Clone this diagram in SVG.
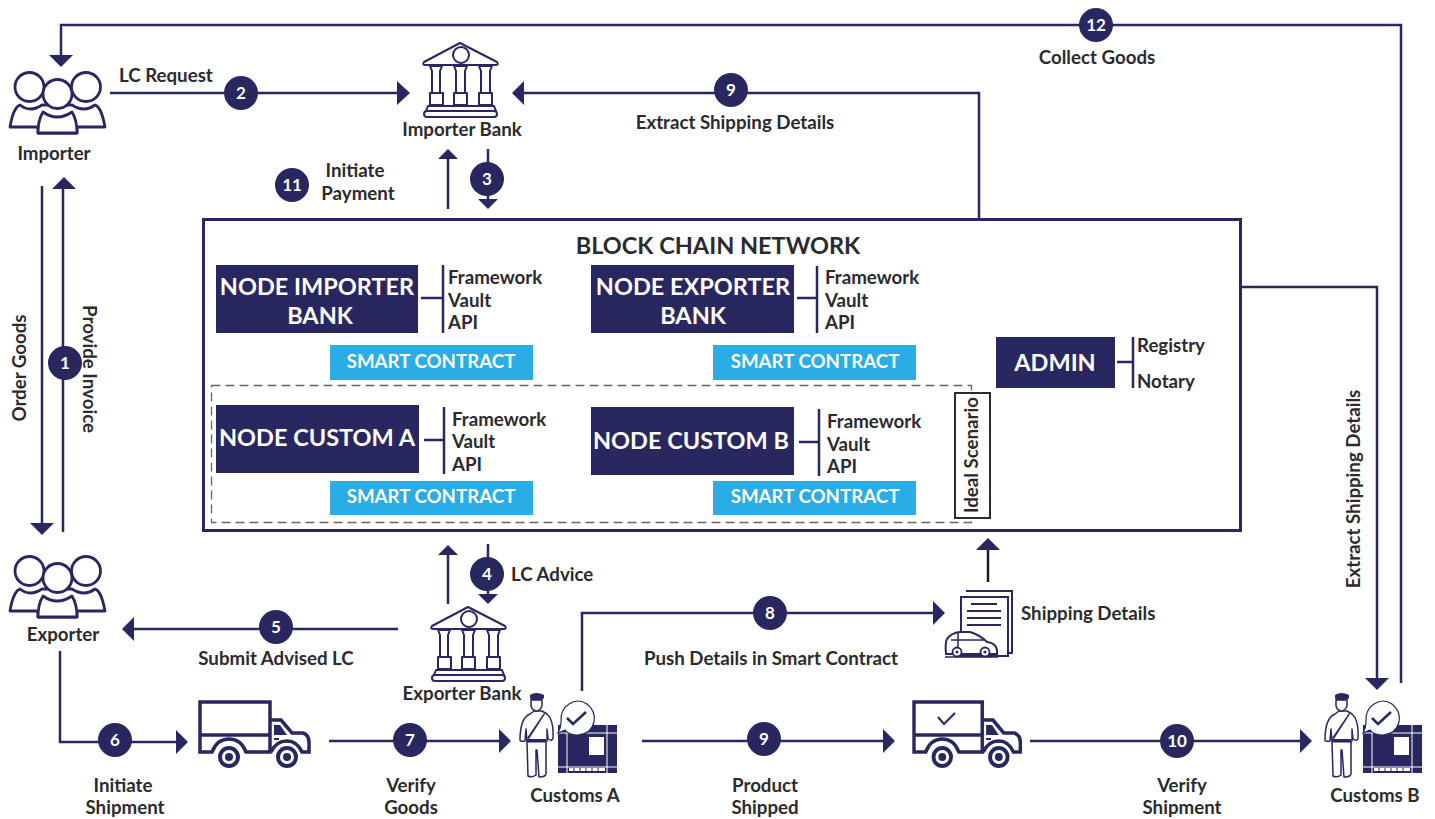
<svg xmlns="http://www.w3.org/2000/svg" width="1435" height="819" viewBox="0 0 1435 819">
<style>
text{font-family:Lato,"Liberation Sans",sans-serif;font-weight:700;fill:#2b2a2e;font-size:18.700px}
.m{text-anchor:middle}
.c{fill:none;stroke:#29275f;stroke-width:2.5}
.i{fill:#fff;stroke:#29275f;stroke-width:2.800;stroke-linejoin:round}
.bk{fill:#fff;stroke:#29275f;stroke-width:2;stroke-linejoin:round}
.t{fill:none;stroke:#29275f;stroke-width:3.500;stroke-linejoin:miter}
.d{fill:#29275f}
.n{fill:#fff;font-size:17px;text-anchor:middle}
.nb{fill:#fff;font-size:23.500px;font-weight:700;text-anchor:middle}
.sc{fill:#fff;font-size:18.700px;text-anchor:middle}
.b{fill:#2aace4}
</style>
<defs>
<g id="people">
<path class="i" d="M10 127Q12 115 15 110Q17 106 20 105Q30 113 42 105L72 105Q84 113 95 105Q98 106 100 110Q103 116 105 127H77V133H38V127Z"/>
<path class="i" d="M38 133Q38 120 43 112Q57 122 72 112Q77 120 77 133Z"/>
<circle class="i" cx="29.500" cy="87" r="14.500"/><circle class="i" cx="86" cy="87" r="14.500"/><circle class="i" cx="57.500" cy="94" r="14.500"/>
</g>
<g id="bank">
<path class="bk" d="M460 43L497 62Q499 65 496 65H425Q422 65 424 62Z"/>
<circle class="bk" cx="461" cy="55" r="8"/>
<path class="bk" d="M430 66H442L440 71V93H432V71Z M454 66H467L465 71V93H456V71Z M479 66H492L490 71V93H481V71Z"/>
<path class="bk" d="M430 93H443V105H430Z M454 93H467V105H454Z M479 93H492V105H479Z"/>
<path class="bk" d="M428 106H494L496 111H426Z"/>
<rect class="bk" x="424" y="111" width="73" height="6" rx="3"/>
</g>
<g id="truck">
<path class="t" d="M200 702H270V752H246Q241 739 229 739Q217 739 212 752H200Z"/>
<path class="t" d="M200 735H270"/>
<path class="t" d="M270 720H281L292 733H303Q309 735 309 742V752H302Q297 741 287 741Q276 741 271 752"/>
<path class="d" d="M274 725H280L287 735H274Z"/><path class="d" d="M274 738H279V740H274Z"/>
<circle cx="229" cy="757" r="9" fill="#fff" stroke="#29275f" stroke-width="4"/><circle class="d" cx="229" cy="757" r="4"/>
<circle cx="287" cy="757" r="9" fill="#fff" stroke="#29275f" stroke-width="4"/><circle class="d" cx="287" cy="757" r="4"/>
</g>
<g id="customs">
<path class="i" style="stroke-width:1.500" d="M520 740Q520 718 530 714L534 711H542L547 714Q554 720 553 738Q552 742 548 739L547 729V741L546 742V774Q545 777 540 777H539L537 750H536V775Q532 778 528 776L527 742L526 729L525 741Q520 742 520 740Z"/>
<path class="i" style="stroke-width:1.500" d="M531 700H542V706Q540 711 536 711Q532 710 531 706Z"/>
<path class="d" d="M530 695Q536 691 544 695V698L542 700H531L530 698Z"/>
<path class="d" d="M527 738L544 713L545 714L529 739Z"/><rect class="d" x="527" y="739" width="19" height="3.500"/>
<path class="d" d="M558 725H617V773H558Z"/>
<path d="M558 733H617M567 725V773M607 725V773M558 767H617" stroke="#fff" stroke-width="1" fill="none"/>
<rect x="589" y="737" width="15" height="18" fill="#fff"/>
<path d="M569 768H605V771H569Z" fill="#fff"/><path d="M574 768V771M580 768V771M586 768V771M592 768V771M598 768V771" stroke="#29275f"/>
<path fill="#fbfcfe" stroke="#29275f" stroke-width="1.200" d="M561 722Q560 710 569 704Q578 698 587 704Q596 711 594 722Q591 734 578 735Q569 735 565 730L558 733Q561 728 561 722Z"/>
<path d="M567 718L573 724L586 712" fill="none" stroke="#29275f" stroke-width="2.500"/>
</g>
</defs>

<g id="connectors">
<path class="c" d="M61 56V25H1401V683"/><path class="d" d="M49 55H73L61 67Z"/>
<path class="c" d="M110 93H399"/><path class="d" d="M397 81L410 93L397 105Z"/>
<path class="c" d="M979 218V93H523"/><path class="d" d="M524 81L512 93L524 105Z"/>
<path class="c" d="M448 209V157"/><path class="d" d="M438 159H458L448 149Z"/>
<path class="c" d="M488 149V200"/><path class="d" d="M478 199H498L488 209Z"/>
<path class="c" d="M42 186V524"/><path class="d" d="M30 523H54L42 535Z"/>
<path class="c" d="M63 532V188"/><path class="d" d="M52 189H76L64 177Z"/>
<path class="c" d="M1241 287H1377V679"/><path class="d" d="M1365 678H1389L1377 690Z"/>
<path class="c" d="M448 604V553"/><path class="d" d="M438 555H458L448 545Z"/>
<path class="c" d="M488 544V595"/><path class="d" d="M478 594H498L488 604Z"/>
<path class="c" d="M398 629H133"/><path class="d" d="M134 617L122 629L134 641Z"/>
<path class="c" d="M60 651V742H177"/><path class="d" d="M176 730L188 742L176 754Z"/>
<path class="c" d="M329 741H500"/><path class="d" d="M499 729L511 741L499 753Z"/>
<path class="c" d="M582 691V613H934"/><path class="d" d="M933 601L945 613L933 625Z"/>
<path fill="none" stroke="#1d1c2b" stroke-width="2.500" d="M988 582V549"/><path class="d" d="M976 550H1000L988 538Z"/>
<path class="c" d="M642 741H884"/><path class="d" d="M883 729L895 741L883 753Z"/>
<path class="c" d="M1030 741H1301"/><path class="d" d="M1300 729L1312 741L1300 753Z"/>
</g>

<g id="importer"><use href="#people"/><text class="m" x="54" y="160">Importer</text></g>
<g id="exporter"><use href="#people" y="484"/><text class="m" x="63" y="641">Exporter</text></g>
<g id="importer-bank"><use href="#bank"/><text class="m" x="462" y="136">Importer Bank</text></g>
<g id="exporter-bank"><use href="#bank" x="8" y="564"/><text class="m" x="462" y="700">Exporter Bank</text></g>
<g id="truck-1"><use href="#truck"/></g>
<g id="truck-2"><use href="#truck" transform="translate(719 0) scale(.975 1)"/><path d="M938 717L944 724L955 713" fill="none" stroke="#29275f" stroke-width="2"/></g>
<g id="customs-a"><use href="#customs"/><text class="m" x="575" y="802">Customs A</text></g>
<g id="customs-b"><use href="#customs" x="805"/><text class="m" x="1375" y="802">Customs B</text></g>
<g id="shipping-details">
<path class="c" style="stroke-width:2" d="M966 591H1012V653H1006"/>
<path fill="#fff" stroke="#29275f" stroke-width="2" d="M961 597H1008V656H961Z"/>
<path d="M971 604H997M967 611H1001M967 618H1001M967 625H1001" stroke="#29275f" stroke-width="2" fill="none"/>
<path fill="#fff" stroke="#29275f" stroke-width="2" d="M946 654Q945 642 947 639Q951 633 960 632H970Q980 635 987 642Q996 643 997 650V654Z"/>
<path d="M945 657H998M951 640H985M958 633V652" stroke="#29275f" stroke-width="1.500" fill="none"/>
<circle cx="957" cy="652" r="4.500" fill="#fff" stroke="#29275f" stroke-width="1.800"/><circle cx="985" cy="652" r="4.500" fill="#fff" stroke="#29275f" stroke-width="1.800"/>
<circle class="d" cx="957" cy="652" r="1.500"/><circle class="d" cx="985" cy="652" r="1.500"/>
<text x="1021" y="620">Shipping Details</text>
</g>

<g id="blockchain-network">
<rect x="203.500" y="219.500" width="1037" height="311" fill="none" stroke="#29275f" stroke-width="3"/>
<text class="m" x="718" y="254" style="font-size:23.500px">BLOCK CHAIN NETWORK</text>
<rect x="211.500" y="385.500" width="760" height="137" fill="none" stroke="#666" stroke-width="1.300" stroke-dasharray="9 5"/>
</g>

<g id="node-importer-bank"><rect class="d" x="216" y="265" width="202" height="68"/>
<text class="nb" x="317" y="295">NODE IMPORTER</text><text class="nb" x="320" y="324">BANK</text>
<path class="c" d="M421 298H443M443 265V333"/><text x="448" y="284">Framework</text><text x="448" y="307">Vault</text><text x="448" y="329">API</text>
<rect class="b" x="330" y="345" width="203" height="35"/><text class="sc" x="431" y="368">SMART CONTRACT</text></g>

<g id="node-exporter-bank"><rect class="d" x="591" y="265" width="203" height="68"/>
<text class="nb" x="693" y="295">NODE EXPORTER</text><text class="nb" x="693" y="324">BANK</text>
<path class="c" d="M797 298H817M817 266V333"/><text x="825" y="284">Framework</text><text x="825" y="307">Vault</text><text x="825" y="329">API</text>
<rect class="b" x="713" y="345" width="203" height="35"/><text class="sc" x="815" y="368">SMART CONTRACT</text></g>

<g id="node-custom-a"><rect class="d" x="216" y="405" width="203" height="68"/>
<text class="nb" x="317" y="446">NODE CUSTOM A</text>
<path class="c" d="M424 440H444M444 407V474"/><text x="452" y="426">Framework</text><text x="452" y="448">Vault</text><text x="452" y="471">API</text>
<rect class="b" x="330" y="481" width="203" height="34"/><text class="sc" x="431" y="503">SMART CONTRACT</text></g>

<g id="node-custom-b"><rect class="d" x="591" y="407" width="203" height="68"/>
<text class="nb" x="691" y="449">NODE CUSTOM B</text>
<path class="c" d="M799 442H819M819 409V476"/><text x="827" y="428">Framework</text><text x="827" y="451">Vault</text><text x="827" y="473">API</text>
<rect class="b" x="713" y="481" width="203" height="34"/><text class="sc" x="815" y="503">SMART CONTRACT</text></g>

<g id="admin"><rect class="d" x="996" y="337" width="119" height="51"/>
<text class="nb" x="1055" y="371">ADMIN</text>
<path class="c" d="M1117 362H1133M1133 337V388"/><text x="1137" y="352">Registry</text><text x="1137" y="388">Notary</text></g>

<g id="ideal-scenario"><rect x="955" y="393" width="35" height="125" fill="#fff" stroke="#2b2a2e" stroke-width="2"/>
<text class="m" transform="translate(978 455) rotate(-90)">Ideal Scenario</text></g>

<g id="badges">
<g class="d"><circle cx="65" cy="363" r="17"/><circle cx="241" cy="93" r="17"/><circle cx="487" cy="179" r="17"/><circle cx="487" cy="574" r="17"/><circle cx="276" cy="627" r="17"/><circle cx="115" cy="740" r="17"/><circle cx="410" cy="740" r="17"/><circle cx="770" cy="613" r="17"/><circle cx="731" cy="90" r="17"/><circle cx="764" cy="739" r="17"/><circle cx="1177" cy="741" r="17"/><circle cx="292" cy="185" r="17"/><circle cx="1096" cy="25" r="17"/></g>
<text class="n" x="65" y="369">1</text><text class="n" x="241" y="99">2</text><text class="n" x="487" y="185">3</text><text class="n" x="487" y="580">4</text><text class="n" x="276" y="633">5</text><text class="n" x="115" y="746">6</text><text class="n" x="410" y="746">7</text><text class="n" x="770" y="619">8</text><text class="n" x="731" y="96">9</text><text class="n" x="764" y="745">9</text><text class="n" x="1177" y="747">10</text><text class="n" x="292" y="191">11</text><text class="n" x="1096" y="31">12</text>
</g>

<g id="labels">
<text x="119" y="82">LC Request</text>
<text class="m" x="1097" y="64">Collect Goods</text>
<text class="m" x="735" y="129">Extract Shipping Details</text>
<text class="m" x="355" y="177">Initiate</text><text class="m" x="358" y="200">Payment</text>
<text x="511" y="581">LC Advice</text>
<text class="m" x="276" y="665">Submit Advised LC</text>
<text class="m" x="771" y="665">Push Details in Smart Contract</text>
<text class="m" x="123" y="792">Initiate</text><text class="m" x="125" y="814">Shipment</text>
<text class="m" x="411" y="792">Verify</text><text class="m" x="411" y="814">Goods</text>
<text class="m" x="765" y="792">Product</text><text class="m" x="765" y="814">Shipped</text>
<text class="m" x="1182" y="792">Verify</text><text class="m" x="1182" y="814">Shipment</text>
<text class="m" transform="translate(26 368) rotate(-90)">Order Goods</text>
<text class="m" transform="translate(83 369) rotate(90)">Provide Invoice</text>
<text class="m" transform="translate(1360 489) rotate(-90)">Extract Shipping Details</text>
</g>
</svg>
